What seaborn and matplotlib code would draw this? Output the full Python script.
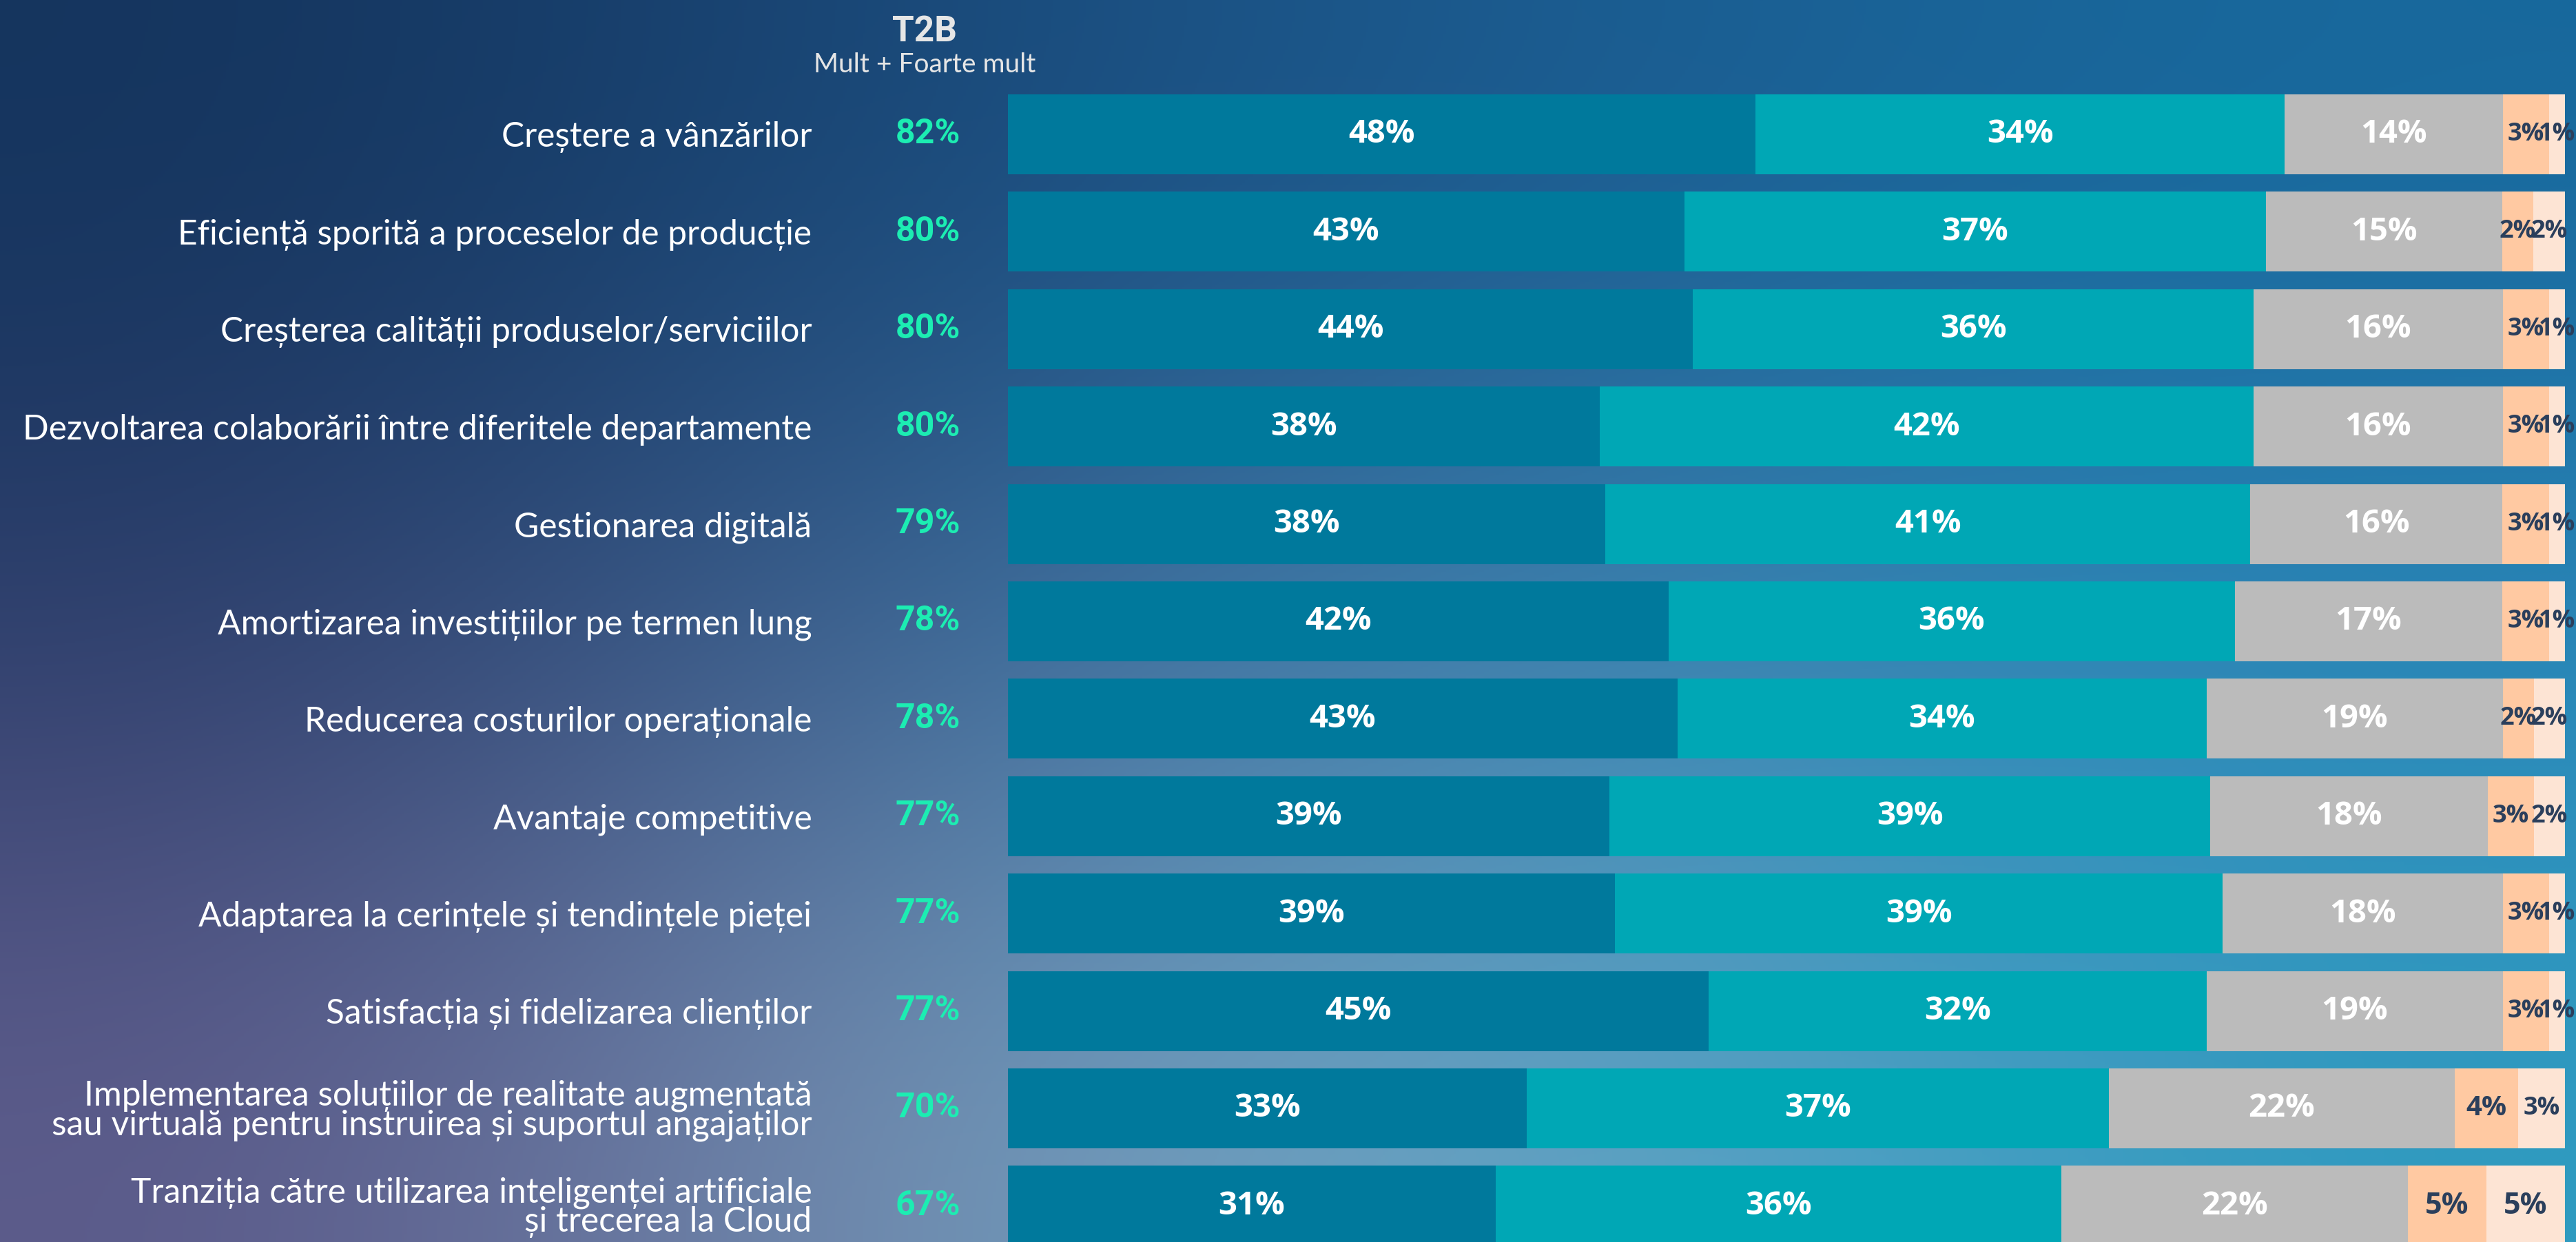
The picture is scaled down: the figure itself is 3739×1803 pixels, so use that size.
import numpy as np
import pandas as pd
import matplotlib
matplotlib.use("Agg")
import matplotlib.pyplot as plt
import matplotlib.transforms as mtransforms
from matplotlib.colors import to_rgb
import seaborn as sns

# ---------------- data ----------------
categories = [
    "Creștere a vânzărilor",
    "Eficiență sporită a proceselor de producție",
    "Creșterea calității produselor/serviciilor",
    "Dezvoltarea colaborării între diferitele departamente",
    "Gestionarea digitală",
    "Amortizarea investițiilor pe termen lung",
    "Reducerea costurilor operaționale",
    "Avantaje competitive",
    "Adaptarea la cerințele și tendințele pieței",
    "Satisfacția și fidelizarea clienților",
    "Implementarea soluțiilor de realitate augmentată\nsau virtuală pentru instruirea și suportul angajaților",
    "Tranziția către utilizarea inteligenței artificiale\nși trecerea la Cloud",
]
t2b = [82, 80, 80, 80, 79, 78, 78, 77, 77, 77, 70, 67]
foarte_mult = [48, 43, 44, 38, 38, 42, 43, 39, 39, 45, 33, 31]
mult = [34, 37, 36, 42, 41, 36, 34, 39, 39, 32, 37, 36]
moderat = [14, 15, 16, 16, 16, 17, 19, 18, 18, 19, 22, 22]
putin = [3, 2, 3, 3, 3, 3, 2, 3, 3, 3, 4, 5]
deloc = [1, 2, 1, 1, 1, 1, 2, 2, 1, 1, 3, 5]
series_names = ["Foarte mult", "Mult", "Moderat", "Puțin", "Deloc"]
header_title = "T2B"
header_sub = "Mult + Foarte mult"

seg_colors = ["#00799C", "#00A7B5", "#BBBBBB", "#FFC9A2", "#FDE4D4"]
label_colors = ["white", "white", "white", "#2B3F5C", "#2B3F5C"]

# ---------------- figure ----------------
W, H = 3739, 1803
DPI = 100
fig = plt.figure(figsize=(W / DPI, H / DPI), dpi=DPI)

# background gradient
bg = fig.add_axes([0, 0, 1, 1], zorder=-10)
grid_hex = [
    ["#14345D", "#1A4B7C", "#1A5C91", "#17689C"],
    ["#2C3C69", "#3F6A9A", "#3F85B2", "#2A86B9"],
    ["#5C5A8A", "#7A9AB9", "#62A6C6", "#2E9BC0"],
]
grid = np.array([[to_rgb(c) for c in row] for row in grid_hex])
bg.imshow(grid, extent=[0, 1, 0, 1], aspect="auto", interpolation="bicubic",
          origin="upper")
bg.set_xlim(0, 1)
bg.set_ylim(0, 1)
bg.axis("off")

# main axes
x0 = 1463 / W
x1 = 3723 / W
ax = fig.add_axes([x0, 0, x1 - x0, 1])
ax.set_zorder(1)
ax.patch.set_alpha(0)

vals = np.array([foarte_mult, mult, moderat, putin, deloc], dtype=float).T
totals = vals.sum(axis=1, keepdims=True)
cum = np.cumsum(vals / totals * 100, axis=1)

df = pd.DataFrame({"cat": categories})
for k in range(5):
    df[f"cum{k}"] = cum[:, k]

for k in reversed(range(5)):
    sns.barplot(data=df, x=f"cum{k}", y="cat", orient="h", order=categories,
                color=seg_colors[k], saturation=1, width=0.82,
                linewidth=0, edgecolor="none", ax=ax)

ax.set_xlim(0, 100)
ax.set_ylim(11.372, -1.379)
ax.set_xlabel("")
ax.set_ylabel("")
ax.set_xticks([])
for s in ax.spines.values():
    s.set_visible(False)

label_font = ["Lato", "DejaVu Sans"]
ax.tick_params(axis="y", length=0, pad=205, labelsize=35.7, labelcolor="white")
for lab in ax.get_yticklabels():
    lab.set_family(label_font)
    lab.set_linespacing(0.9)

# segment labels (smaller for narrow segments, as in the reference)
def label_size(v):
    if v <= 3:
        return 26
    if v == 4:
        return 29
    if v == 5:
        return 31
    return 34

starts = np.hstack([np.zeros((len(categories), 1)), cum[:, :-1]])
for i in range(len(categories)):
    for k in range(5):
        v = int(vals[i, k])
        cx = (starts[i, k] + cum[i, k]) / 2
        ax.text(cx, i, f"{v}%", ha="center", va="center",
                fontsize=label_size(v), fontweight="bold", color=label_colors[k],
                family=["Open Sans", "DejaVu Sans"])

# T2B column
tr = mtransforms.blended_transform_factory(fig.transFigure, ax.transData)
for i, v in enumerate(t2b):
    ax.text(1347 / W, i, f"{v}%", transform=tr, ha="center", va="center",
            fontsize=36, fontweight="bold", color="#1CEDB2",
            family=["Roboto", "DejaVu Sans"])

fig.text(1342 / W, 1 - 46 / H, header_title, ha="center", va="center",
         fontsize=37, fontweight="bold", color="#E6E6E6", family=["Roboto", "DejaVu Sans"])
fig.text(1342 / W, 1 - 94 / H, header_sub, ha="center", va="center",
         fontsize=28, color="#E6E6E6", family=["Lato", "DejaVu Sans"])

fig.savefig("out.png", dpi=DPI)
